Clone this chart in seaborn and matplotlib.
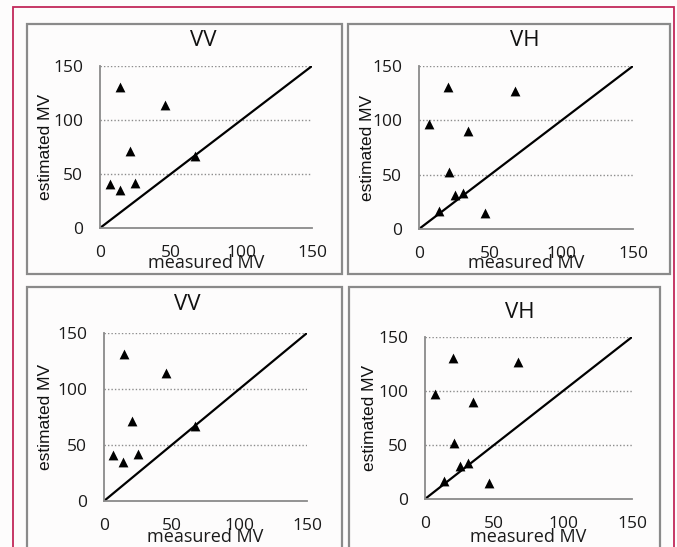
import matplotlib
matplotlib.use("Agg")
import matplotlib.pyplot as plt
from matplotlib.patches import Rectangle
import seaborn as sns
import pandas as pd

# ---- data ----
vv_measured = [7, 14.5, 14, 21, 25, 46, 67]
vv_estimated = [41, 131, 35, 71, 42, 114, 67]
vh_measured = [7, 20, 14, 21, 25, 31, 34.5, 46.5, 67.5]
vh_estimated = [97, 131, 17, 52, 31, 33, 90, 15, 127]
line_x = [0, 150]
line_y = [0, 150]
ticks = [0, 50, 100, 150]
titles = ["VV", "VH", "VV", "VH"]

sns.set_theme(style="white")
plt.rcParams["font.family"] = ["Open Sans", "DejaVu Sans"]

W, H = 677, 547
fig = plt.figure(figsize=(W / 100, H / 100), dpi=100)
fig.patch.set_facecolor("#fdfcfc")

def px_rect(x0, y0, x1, y1):
    return [x0 / W, 1 - y1 / H, (x1 - x0) / W, (y1 - y0) / H]

# outer crimson border
fig.patches.append(Rectangle((13 / W, -0.05), (674 - 13) / W, 1 - 7 / H + 0.05,
                             transform=fig.transFigure, fill=False,
                             edgecolor="#c2285a", linewidth=1.3, zorder=0))
# panel boxes
boxes = [(27, 24, 342, 274), (348, 24, 670, 274), (27, 287, 342, 570), (349, 287, 660, 570)]
for (x0, y0, x1, y1) in boxes:
    fig.patches.append(Rectangle((x0 / W, 1 - y1 / H), (x1 - x0) / W, (y1 - y0) / H,
                                 transform=fig.transFigure, fill=False,
                                 edgecolor="#8a8a8a", linewidth=1.6, zorder=0))

axes_px = [(100, 66, 312, 228), (419, 66, 633, 229), (104, 333, 307, 501), (425, 337, 632, 499)]
title_px = [(203, 40), (525, 40), (187, 305), (520, 313)]
datasets = [(vv_measured, vv_estimated), (vh_measured, vh_estimated),
            (vv_measured, vv_estimated), (vh_measured, vh_estimated)]

for i, (rect, tpos, (mx, ey)) in enumerate(zip(axes_px, title_px, datasets)):
    ax = fig.add_axes(px_rect(*rect))
    ax.set_facecolor("#fdfcfc")
    df = pd.DataFrame({"measured MV": mx, "estimated MV": ey})
    for yv in ticks[1:]:
        ax.axhline(yv, color="#8c8c8c", linestyle=(0, (1, 1.5)), linewidth=1.0, zorder=1)
    sns.lineplot(x=line_x, y=line_y, ax=ax, color="black", linewidth=1.6, zorder=2)
    sns.scatterplot(data=df, x="measured MV", y="estimated MV", ax=ax, marker="^",
                    color="black", s=50, edgecolor="black", linewidth=0, zorder=3)
    ax.set_xlim(0, 150)
    ax.set_ylim(0, 150)
    ax.set_xticks(ticks)
    ax.set_yticks(ticks)
    for s in ["top", "right"]:
        ax.spines[s].set_visible(False)
    for s in ["left", "bottom"]:
        ax.spines[s].set_color("#8a8a8a")
        ax.spines[s].set_linewidth(1.3)
    ax.tick_params(axis="both", direction="out", length=4, width=1.0, color="#8a8a8a",
                   labelsize=12.5, labelcolor="#1a1a1a", pad=8)
    ax.tick_params(axis="y", length=3, pad=9)
    ax.set_xlabel("measured MV", fontsize=13, color="#1a1a1a")
    ax.xaxis.label.set_va("center")
    ax.set_ylabel("estimated MV", fontsize=12.5, color="#111111",
                  family=["Liberation Sans", "DejaVu Sans"])
    ax.yaxis.label.set_va("center")
    x0, y0, x1, y1 = rect
    hgt = y1 - y0
    wid = x1 - x0
    xl_y = 263 if i < 2 else 537
    ax.xaxis.set_label_coords(0.5, (y1 - xl_y) / hgt)
    yl_x = [45, 367, 46, 369][i]
    ax.yaxis.set_label_coords((yl_x - x0) / wid, 0.5)
    fig.text(tpos[0] / W, 1 - tpos[1] / H, titles[i], ha="center", va="center",
             fontsize=16, color="#111111")
    if ax.get_legend():
        ax.get_legend().remove()

fig.savefig("out.png", dpi=100, facecolor=fig.get_facecolor())
